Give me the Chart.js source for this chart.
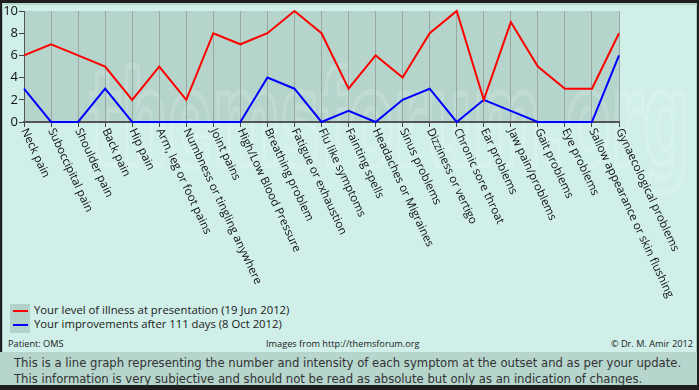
<!DOCTYPE html>
<html>
<head>
<meta charset="utf-8">
<script src="https://cdn.jsdelivr.net/npm/chart.js@4.4.1/dist/chart.umd.min.js"></script>
<style>
  body { margin: 0; width: 699px; height: 390px; background: #1e1e1e; position: relative; overflow: hidden; font-family: "Open Sans", sans-serif; }
  #panel { position: absolute; left: 2px; top: 3px; width: 693px; height: 347px; background: #cfefe8; border: 1px solid #a9c9c1; border-top: 2px solid #b6d6ce; }
  #strip { position: absolute; left: 0; top: 352px; width: 697px; height: 33px; background: #b6d5cd; }
  #chartWrap { position: absolute; left: 0; top: 0; width: 699px; height: 300px; }
  .legendBox { position: absolute; left: 10px; top: 304px; width: 20px; height: 29px; background: #b3d2ca; }
  .swatch { position: absolute; left: 3px; width: 15px; height: 2px; }
  .legText { position: absolute; left: 34px; font-size: 11.3px; color: #1a1a1a; line-height: 14px; white-space: nowrap; }
  .small { position: absolute; top: 337px; font-size: 9.2px; color: #1a1a1a; line-height: 14px; white-space: nowrap; }
  .note { position: absolute; left: 14px; font-family: "DejaVu Sans", sans-serif; font-size: 11.65px; color: #333; line-height: 14px; white-space: nowrap; }
</style>
</head>
<body>
<div id="panel"></div>
<div id="strip"></div>
<div id="chartWrap"><canvas id="chart" width="699" height="300"></canvas></div>

<div class="legendBox">
  <div class="swatch" style="top:6px;background:#ff0000"></div>
  <div class="swatch" style="top:20px;background:#0000ff"></div>
</div>
<div class="legText" id="leg1" style="top:303px"></div>
<div class="legText" id="leg2" style="top:317px"></div>
<div class="small" style="left:8px">Patient: OMS</div>
<div class="small" style="left:266px">Images from http://themsforum.org</div>
<div class="small" style="right:6px">© Dr. M. Amir 2012</div>
<div class="note" style="top:356px">This is a line graph representing the number and intensity of each symptom at the outset and as per your update.</div>
<div class="note" style="top:372px">This information is very subjective and should not be read as absolute but only as an indication of changes.</div>

<script>
// symptoms on the x axis
const symptoms = [
  "Neck pain", "Suboccipital pain", "Shoulder pain", "Back pain", "Hip pain",
  "Arm, leg or foot pains", "Numbness or tingling anywhere", "Joint pains",
  "High/Low Blood Pressure", "Breathing problem", "Fatigue or exhaustion",
  "Flu like symptoms", "Fainting spells", "Headaches or Migraines",
  "Sinus problems", "Dizziness or vertigo", "Chronic sore throat",
  "Ear problems", "Jaw pain/problems", "Gait problems", "Eye problems",
  "Sallow appearance or skin flushing", "Gynaecological problems"
];

// level at presentation (red)
const atPresentation = [6, 7, 6, 5, 2, 5, 2, 8, 7, 8, 10, 8, 3, 6, 4, 8, 10, 2, 9, 5, 3, 3, 8];
// after 111 days (blue)
const afterUpdate = [3, 0, 0, 3, 0, 0, 0, 0, 0, 4, 3, 0, 1, 0, 2, 3, 0, 2, 1, 0, 0, 0, 6];

const yTicks = [0, 2, 4, 6, 8, 10];

const label1 = "Your level of illness at presentation (19 Jun 2012)";
const label2 = "Your improvements after 111 days (8 Oct 2012)";
document.getElementById("leg1").textContent = label1;
document.getElementById("leg2").textContent = label2;

// plot background + faint watermark
const plotBg = {
  id: "plotBg",
  beforeDraw(chart) {
    const { ctx, chartArea: a } = chart;
    ctx.save();
    ctx.fillStyle = "#b4d4cc";
    ctx.fillRect(a.left, a.top, a.right - a.left, a.bottom - a.top);
    ctx.font = "bold 130px 'DejaVu Sans'";
    const w = ctx.measureText("themsforum.org").width;
    ctx.translate(90, 165);
    ctx.scale(600 / w, 1);
    ctx.lineWidth = 6;
    ctx.strokeStyle = "rgba(255,255,255,0.17)";
    ctx.strokeText("themsforum.org", 0, 0);
    ctx.restore();
  }
};

// x labels rotated clockwise, starting at the tick
const slantLabels = {
  id: "slantLabels",
  afterDraw(chart) {
    const { ctx } = chart;
    const xs = chart.scales.x;
    ctx.save();
    ctx.font = "11.5px 'Open Sans'";
    ctx.fillStyle = "#111";
    ctx.textAlign = "left";
    ctx.textBaseline = "middle";
    symptoms.forEach((s, i) => {
      const x = xs.getPixelForTick(i);
      ctx.save();
      ctx.translate(x, xs.top + 7);
      ctx.rotate(65 * Math.PI / 180);
      ctx.fillText(s, 0, 0);
      ctx.restore();
    });
    ctx.restore();
  }
};

const ctx = document.getElementById("chart").getContext("2d");
new Chart(ctx, {
  type: "line",
  data: {
    labels: symptoms,
    datasets: [
      { label: label1, data: atPresentation, borderColor: "#ff0000", borderWidth: 2, pointRadius: 0, tension: 0, clip: false },
      { label: label2, data: afterUpdate, borderColor: "#0000ff", borderWidth: 2, pointRadius: 0, tension: 0, clip: false }
    ]
  },
  options: {
    responsive: false,
    animation: false,
    layout: { padding: { left: 0, right: 80, top: 11, bottom: 0 } },
    plugins: { legend: { display: false }, tooltip: { enabled: false } },
    scales: {
      x: {
        offset: false,
        grid: { color: "#9aa8a4", tickColor: "#444", tickLength: 5, offset: false },
        border: { color: "#555", width: 2 },
        ticks: { display: false },
        afterFit(s) { s.height = 178; }
      },
      y: {
        min: 0, max: 10,
        grid: { drawOnChartArea: false, color: "#444", tickLength: 5 },
        border: { color: "#555", width: 1 },
        ticks: {
          stepSize: 1, padding: 1, color: "#111",
          font: { family: "'Open Sans'", size: 13 },
          callback: (v) => yTicks.includes(v) ? String(v) : ""
        },
        afterFit(s) { s.width = 24; }
      }
    }
  },
  plugins: [plotBg, slantLabels]
});
</script>
</body>
</html>
